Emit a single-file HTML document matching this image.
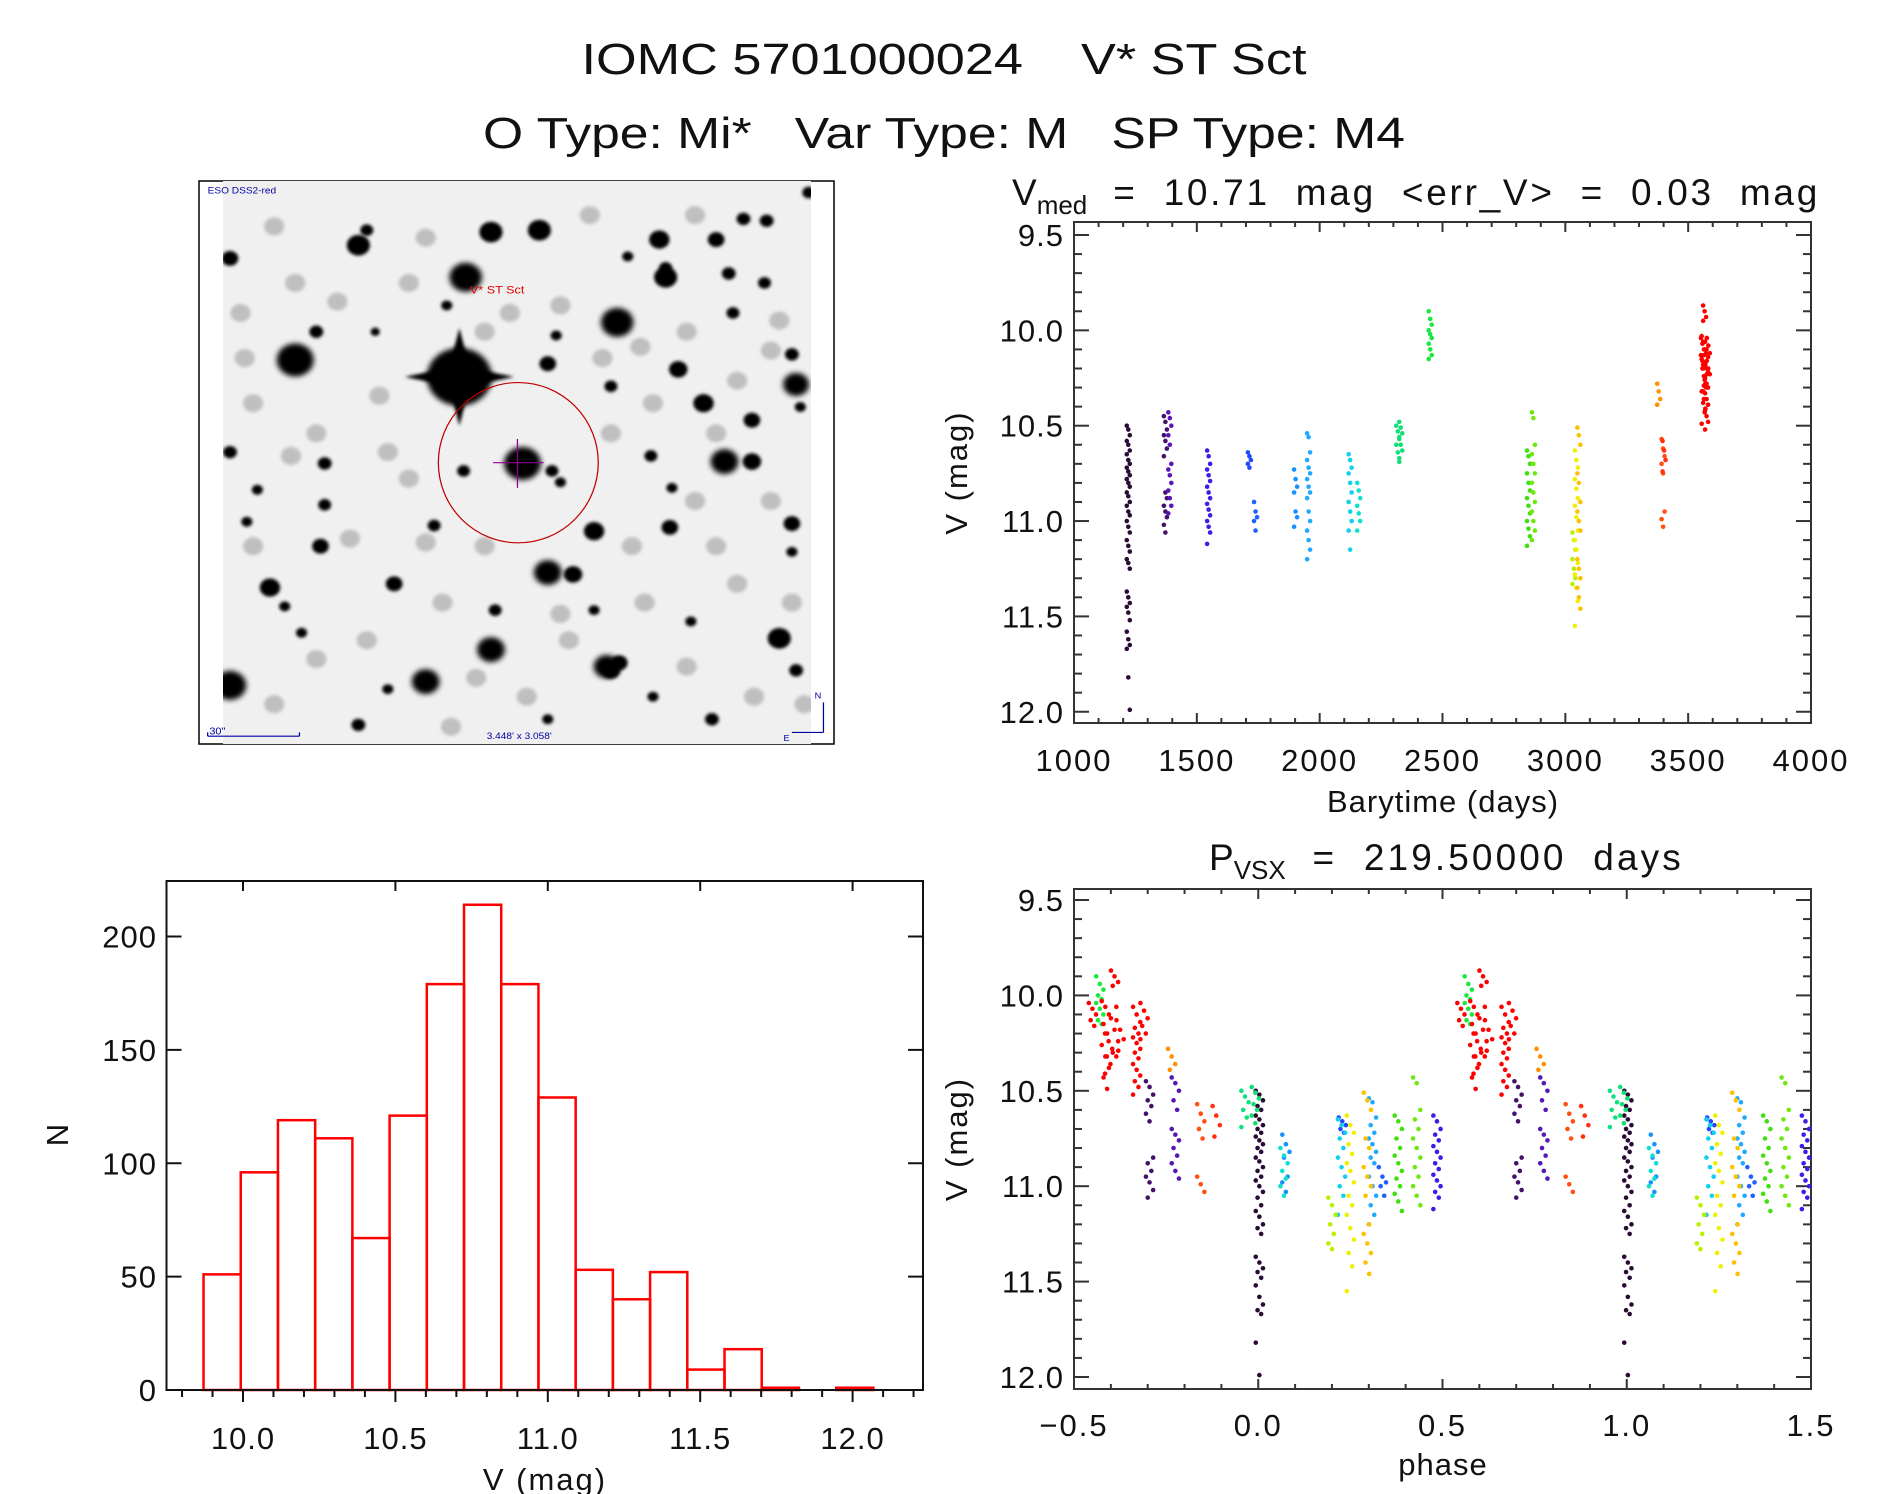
<!DOCTYPE html>
<html><head><meta charset="utf-8"><title>IOMC 5701000024 V* ST Sct</title>
<style>
html,body{margin:0;padding:0;background:#fff;}
svg{display:block;font-family:"Liberation Sans","DejaVu Sans",sans-serif;}
svg text{white-space:pre;}
</style></head>
<body>
<svg id="fig" width="1889" height="1494" viewBox="0 0 1889 1494" xmlns="http://www.w3.org/2000/svg" xml:space="preserve">
<defs>
<filter id="blur4" x="-50%" y="-50%" width="200%" height="200%"><feGaussianBlur stdDeviation="7"/></filter>
<filter id="blur2" x="-50%" y="-50%" width="200%" height="200%"><feGaussianBlur stdDeviation="4"/></filter>
<clipPath id="imgclip"><rect x="223" y="181" width="588" height="563"/></clipPath>
</defs>
<text x="944" y="74" font-size="44" text-anchor="middle" textLength="725" lengthAdjust="spacingAndGlyphs" fill="#111">IOMC 5701000024    V* ST Sct</text>
<text x="944" y="148" font-size="44" text-anchor="middle" textLength="922" lengthAdjust="spacingAndGlyphs" fill="#111">O Type: Mi*   Var Type: M   SP Type: M4</text>

<g>
<rect x="199" y="181" width="635" height="563" fill="#fff" stroke="#000" stroke-width="1.5"/>
<rect x="223" y="181" width="588" height="563" fill="#f0f0f0"/>
<g clip-path="url(#imgclip)"><g id="stars" transform="translate(190,170) scale(0.4209,0.3762)"></g></g>
<g transform="translate(190,170) scale(0.4209,0.3762)">
<ellipse cx="780" cy="778" rx="190" ry="213" fill="none" stroke="#c00000" stroke-width="3"/>
<path d="M720 778 H840 M778 715 V845" stroke="#900090" stroke-width="3"/>
<text x="665" y="328" font-size="30" fill="#e00000">V* ST Sct</text>
<text x="42" y="62" font-size="24" fill="#0000a0">ESO DSS2-red</text>
<path d="M42 1505 H260 M42 1495 V1505 M260 1495 V1505" stroke="#0000a0" stroke-width="3" fill="none"/>
<text x="46" y="1500" font-size="26" fill="#0000a0">30"</text>
<text x="705" y="1512" font-size="24" fill="#0000a0">3.448' x 3.058'</text>
<path d="M1505 1495 V1415 M1430 1495 H1505" stroke="#0000a0" stroke-width="3" fill="none"/>
<text x="1484" y="1405" font-size="22" fill="#0000a0">N</text>
<text x="1410" y="1518" font-size="22" fill="#0000a0">E</text>
</g>
</g>

<g id="tr"></g>
<g id="br"></g>
<g id="hist"></g>
</svg>
<script>
// ---------------- data ----------------
const groupColor = ["#2b0b36","#44106a","#5816b4","#3a1ee8","#2048ff","#2060ff","#1890ff","#20aaff","#10d0f0","#10e0d0","#10e070","#10e080","#18e840","#40e010","#70e810","#b8f000","#f0f000","#ffc000","#ff9000","#ff5010","#ff3010","#ff0000","#ff0000","#ff0000","#ff0000","#ff0000","#ff0000","#ff0000"];
const groupTime = [1221,1372,1390,1548,1714,1739,1902,1955,2124,2159,2330,2318,2450,2850,2870,3035,3045,3055,3380,3398,3402,3558,3561,3564,3567,3570,3575,3582];
const groupPhase = [0.003,-0.295,-0.225,0.485,0.228,0.337,0.075,0.31,0.226,0.07,-0.008,-0.036,-0.43,0.38,0.43,0.2,0.25,0.296,-0.235,-0.156,-0.114,-0.45,-0.415,-0.406,-0.39,-0.375,-0.33,-0.31];
const groupMags = [
 [10.50,10.52,10.55,10.58,10.60,10.63,10.65,10.68,10.70,10.72,10.74,10.76,10.78,10.80,10.82,10.85,10.87,10.90,10.92,10.95,10.97,11.00,11.03,11.06,11.10,11.13,11.16,11.20,11.22,11.25,11.37,11.40,11.43,11.45,11.48,11.52,11.58,11.62,11.65,11.67,11.82,11.99],
 [10.45,10.48,10.52,10.55,10.58,10.62,10.66,10.85,10.88,10.92,10.95,10.98,11.02,11.06],
 [10.43,10.46,10.50,10.55,10.60,10.70,10.73,10.76,10.80,10.84,10.88,10.92,10.96],
 [10.63,10.66,10.70,10.73,10.76,10.79,10.82,10.85,10.88,10.91,10.94,10.97,11.00,11.03,11.06,11.12],
 [10.64,10.66,10.68,10.70,10.72],
 [10.90,10.95,10.98,11.00,11.05],
 [10.73,10.78,10.82,10.85,10.95,10.98,11.03],
 [10.54,10.56,10.64,10.68,10.72,10.75,10.78,10.82,10.85,10.88,10.95,11.00,11.05,11.10,11.15,11.20],
 [10.65,10.68,10.72,10.75,10.80,10.85,10.90,10.95,11.00,11.05,11.15],
 [10.80,10.84,10.88,10.92,10.96,11.00,11.05],
 [10.48,10.51,10.54,10.57,10.60,10.63,10.67],
 [10.50,10.53,10.56,10.60,10.64,10.69],
 [9.90,9.94,9.97,10.00,10.02,10.04,10.07,10.10,10.13,10.15],
 [10.63,10.66,10.70,10.75,10.80,10.84,10.88,10.92,10.96,11.00,11.04,11.08,11.13],
 [10.43,10.46,10.60,10.65,10.70,10.75,10.80,10.85,10.90,10.95,11.00,11.05,11.10],
 [11.06,11.10,11.15,11.20,11.25,11.30,11.33],
 [10.63,10.68,10.72,10.78,10.83,10.88,10.92,10.98,11.05,11.10,11.15,11.22,11.28,11.35,11.42,11.55],
 [10.51,10.55,10.60,10.75,10.80,10.90,10.95,11.00,11.05,11.20,11.25,11.30,11.35,11.40,11.46],
 [10.28,10.32,10.36,10.39],
 [10.57,10.62,10.66,10.70,10.75,10.95,10.99,11.03],
 [10.58,10.63,10.68,10.74],
 [10.04,10.07,10.10,10.13,10.16],
 [10.03,10.06,10.10,10.15,10.20,10.26,10.32,10.38,10.43,10.49],
 [10.20,10.24,10.28,10.32,10.36,10.41],
 [9.87,9.90,9.93,9.95,10.06,10.12,10.18,10.24,10.30,10.32],
 [10.13,10.18,10.23,10.29],
 [10.06,10.10,10.14,10.17,10.20,10.22,10.25,10.28,10.30,10.33,10.36,10.39,10.42,10.45,10.48,10.52],
 [10.04,10.08,10.12,10.16,10.20,10.23]
];
const timeTicks = [1000,1500,2000,2500,3000,3500,4000];
const magTicks = [9.5,10.0,10.5,11.0,11.5,12.0];
const phaseTicks = [-0.5,0.0,0.5,1.0,1.5];
const histCounts = [51,96,119,111,67,121,179,214,179,129,53,40,52,9,18,1,0,1];
const histStart = 9.8705;
const histBin = 0.12209;
const histXTicks = [10.0,10.5,11.0,11.5,12.0];
const histYTicks = [0,50,100,150,200];

// ---------------- helpers ----------------
const NS = "http://www.w3.org/2000/svg";
function mk(tag, attrs, parent) {
  const e = document.createElementNS(NS, tag);
  for (const k in attrs) e.setAttribute(k, attrs[k]);
  parent.appendChild(e);
  return e;
}
const AX = "#333";

const xT = t => 1074 + (t - 1000) * (737 / 3000);
const yT = v => 235 + (v - 9.5) * 190.7;
const xP = p => 1074 + (p + 0.5) * 368.5;
const yP = v => 900 + (v - 9.5) * 190.8;
const xH = v => 243 + (v - 10) * 304.8;
const yH = n => 1390 - n * 2.2675;

function magPanel(g, L, R, T, B, yf) {
  const frame = mk("rect", {x:L, y:T, width:R-L, height:B-T, fill:"none", stroke:AX, "stroke-width":2}, g);
  
  
  for (let i = 0; i <= 25; i++) {
    const v = 9.5 + i * 0.1;
    const y = yf(v);
    if (y > B) break;
    const len = (i % 5 === 0) ? 15 : 8;
    const t1 = mk("line", {x1:L, x2:L+len, y1:y, y2:y, stroke:AX, "stroke-width":2}, g);
    
    
    const t2 = mk("line", {x1:R, x2:R-len, y1:y, y2:y, stroke:AX, "stroke-width":2}, g);
    
    
  }
  magTicks.forEach(v => {
    const tx = mk("text", {x:L-10, y:yf(v)+11, "font-size":31, "text-anchor":"end", fill:"#111", "letter-spacing":"1"}, g);
    tx.textContent = v.toFixed(1);
    
    
  });
  const cy = (T + B) / 2;
  const yl = mk("text", {x:0, y:0, "font-size":31, "text-anchor":"middle", fill:"#111", transform:`translate(967 ${cy}) rotate(-90)`, "letter-spacing":"2"}, g);
  yl.textContent = "V (mag)";
  
  
}

// ---------------- stars image ----------------
const starList = [[640,550,70],[250,505,40],[1015,405,35],[655,285,35],[790,780,40],[1270,775,30],[1335,775,20],[1440,570,28],[1220,620,22],[715,165,25],[830,160,25],[1115,185,22],[1130,285,25],[400,200,25],[95,1370,35],[560,1360,30],[715,1275,30],[1400,1245,25],[990,1320,28],[850,1070,30],[910,1075,20],[190,1110,22],[485,1100,18],[960,960,22],[1140,950,18],[1430,940,18],[1160,530,20],[850,515,18],[1250,185,18],[1370,135,15],[1315,130,15],[1335,665,18],[310,1000,18],[320,780,15],[320,890,14],[160,850,12],[95,750,15],[95,235,18],[300,430,15],[1290,380,14],[1430,490,15],[1000,575,14],[1365,300,14],[1240,1460,15],[400,1475,15],[470,1380,12],[725,1170,14],[960,1170,12],[870,440,12],[650,800,14],[580,945,14],[1190,1200,12],[1440,1330,15],[1430,1015,12],[1095,760,14],[1280,275,15],[135,935,12],[1145,845,12],[225,1160,12],[265,1230,12],[1100,1400,12],[850,1460,12],[610,360,12],[440,430,10],[1450,630,12],[1470,60,14],[860,800,14],[880,830,12],[1040,230,12],[1130,260,14],[420,160,14],[1000,1330,20],[1020,1310,18]];
const faintList = [[200,150],[300,700],[450,600],[520,820],[560,990],[700,430],[760,380],[880,360],[980,500],[1070,470],[1180,430],[1300,560],[1380,480],[1200,880],[1300,1100],[1080,1150],[900,1250],[600,1150],[420,1250],[300,1300],[150,1000],[130,500],[250,300],[560,180],[950,120],[1200,120],[1400,400],[1000,700],[700,1000],[800,1400],[1180,1320],[1340,1400],[620,1480],[200,1420],[1050,1000],[470,750],[380,980],[150,620],[1430,1150],[1250,1000],[350,350],[520,300],[1100,620],[1250,700],[1380,880],[880,1180],[680,1350],[240,760],[120,380],[1460,1420]];
(function(){
  const g = document.getElementById("stars");
  faintList.forEach(s => {
    const c = mk("circle", {cx:s[0], cy:s[1], r:24, fill:"#777", opacity:0.4, filter:"url(#blur2)"}, g);
    
    
  });
  starList.forEach(s => {
    const c = mk("circle", {cx:s[0], cy:s[1], r:s[2]*1.1, fill:"#000", filter: s[2] > 25 ? "url(#blur4)" : "url(#blur2)"}, g);
    
    
  });
  const sp = mk("path", {d:"M510 550 L640 520 L770 550 L640 580 Z M640 420 L670 550 L640 680 L610 550 Z", fill:"#000", filter:"url(#blur2)"}, g);
  
  
})();

// ---------------- top-right: light curve ----------------
(function(){
  const g = document.getElementById("tr");
  const L = 1074, R = 1811, T = 222, B = 723;
  magPanel(g, L, R, T, B, yT);
  for (let t = 1000; t <= 4000; t += 100) {
    const x = xT(t);
    const major = (t % 500 === 0);
    const a = mk("line", {x1:x, x2:x, y1:B, y2:B-(major?10:5), stroke:AX, "stroke-width":2}, g);
    
    
    const b = mk("line", {x1:x, x2:x, y1:T, y2:T+(major?10:5), stroke:AX, "stroke-width":2}, g);
    
    
  }
  timeTicks.forEach(t => {
    const tx = mk("text", {x:xT(t), y:771, "font-size":31, "text-anchor":"middle", fill:"#111", "letter-spacing":"2"}, g);
    tx.textContent = String(t);
    
    
  });
  const xl = mk("text", {x:1443, y:812, "font-size":31, "text-anchor":"middle", fill:"#111", "letter-spacing":"1"}, g);
  xl.textContent = "Barytime (days)";
  
  
  const ti = mk("text", {x:1012, y:205, "font-size":37, fill:"#111"}, g);
  
  
  ti.innerHTML = 'V<tspan font-size="26" dy="9">med</tspan><tspan dy="-9" textLength="730" lengthAdjust="spacing">  =  10.71  mag  &lt;err_V&gt;  =  0.03  mag</tspan>';
  groupMags.forEach((arr, gi) => {
    arr.forEach((v, i) => {
      const dx = ((i * 7) % 3 - 1) * 1.5;
      const c = mk("circle", {cx:xT(groupTime[gi]) + dx, cy:yT(v), r:2.3, fill:groupColor[gi]}, g);
      
      
    });
  });
})();

// ---------------- bottom-right: phase curve ----------------
(function(){
  const g = document.getElementById("br");
  const L = 1074, R = 1811, T = 889, B = 1389;
  magPanel(g, L, R, T, B, yP);
  for (let k = 0; k <= 20; k++) {
    const p = -0.5 + k * 0.1;
    const x = xP(p);
    const major = (k % 5 === 0);
    const a = mk("line", {x1:x, x2:x, y1:B, y2:B-(major?10:5), stroke:AX, "stroke-width":2}, g);
    
    
    const b = mk("line", {x1:x, x2:x, y1:T, y2:T+(major?10:5), stroke:AX, "stroke-width":2}, g);
    
    
  }
  phaseTicks.forEach(p => {
    const tx = mk("text", {x:xP(p), y:1436, "font-size":31, "text-anchor":"middle", fill:"#111", "letter-spacing":"2"}, g);
    tx.textContent = (p < 0 ? "\u2212" + Math.abs(p).toFixed(1) : p.toFixed(1));
    
    
  });
  const xl = mk("text", {x:1443, y:1475, "font-size":31, "text-anchor":"middle", fill:"#111", "letter-spacing":"1"}, g);
  xl.textContent = "phase";
  
  
  const ti = mk("text", {x:1209, y:870, "font-size":37, fill:"#111"}, g);
  
  
  ti.innerHTML = 'P<tspan font-size="26" dy="9">VSX</tspan><tspan dy="-9" textLength="395" lengthAdjust="spacing">  =  219.50000  days</tspan>';
  groupMags.forEach((arr, gi) => {
    arr.forEach((v, i) => {
      const dx = ((i * 7) % 5 - 2) * 1.8;
      [0, 1].forEach(sh => {
        const p = groupPhase[gi] + sh;
        if (p < -0.5 || p > 1.5) return;
        const c = mk("circle", {cx:xP(p) + dx, cy:yP(v), r:2.3, fill:groupColor[gi]}, g);
        
        
      });
    });
  });
})();

// ---------------- histogram ----------------
(function(){
  const g = document.getElementById("hist");
  const L = 166.5, R = 923, T = 881, B = 1390;
  histCounts.forEach((n, i) => {
    const x0 = xH(histStart + i * histBin), x1 = xH(histStart + (i + 1) * histBin);
    const r = mk("rect", {x:x0, y:yH(n), width:x1 - x0, height:yH(0) - yH(n), fill:"none", stroke:"#ff0000", "stroke-width":2.5}, g);
    
    
  });
  const fr = mk("rect", {x:L, y:T, width:R-L, height:B-T, fill:"none", stroke:"#111", "stroke-width":2}, g);
  
  
  histYTicks.forEach(n => {
    const y = yH(n);
    const a = mk("line", {x1:L, x2:L+15, y1:y, y2:y, stroke:"#111", "stroke-width":2}, g);
    
    
    const b = mk("line", {x1:R, x2:R-15, y1:y, y2:y, stroke:"#111", "stroke-width":2}, g);
    
    
    const tx = mk("text", {x:157, y:y+11, "font-size":31, "text-anchor":"end", fill:"#111", "letter-spacing":"1"}, g);
    tx.textContent = String(n);
    
    
  });
  for (let k = -2; k <= 22; k++) {
    const v = 10 + k * 0.1;
    const x = xH(v);
    if (x < L || x > R) continue;
    const major = (k % 5 === 0);
    const a = mk("line", {x1:x, x2:x, y1:B, y2:B+(major?12:7), stroke:"#111", "stroke-width":2}, g);
    
    
    if (major) {
      const b = mk("line", {x1:x, x2:x, y1:T, y2:T+10, stroke:"#111", "stroke-width":2}, g);
      
      
    }
  }
  histXTicks.forEach(v => {
    const tx = mk("text", {x:xH(v), y:1449, "font-size":31, "text-anchor":"middle", fill:"#111", "letter-spacing":"1"}, g);
    tx.textContent = v.toFixed(1);
    
    
  });
  const xl = mk("text", {x:545, y:1490, "font-size":31, "text-anchor":"middle", fill:"#111", "letter-spacing":"2"}, g);
  xl.textContent = "V (mag)";
  
  
  const yl = mk("text", {x:0, y:0, "font-size":31, "text-anchor":"middle", fill:"#111", transform:"translate(68 1135) rotate(-90)"}, g);
  yl.textContent = "N";
  
  
})();
</script>
</body></html>
